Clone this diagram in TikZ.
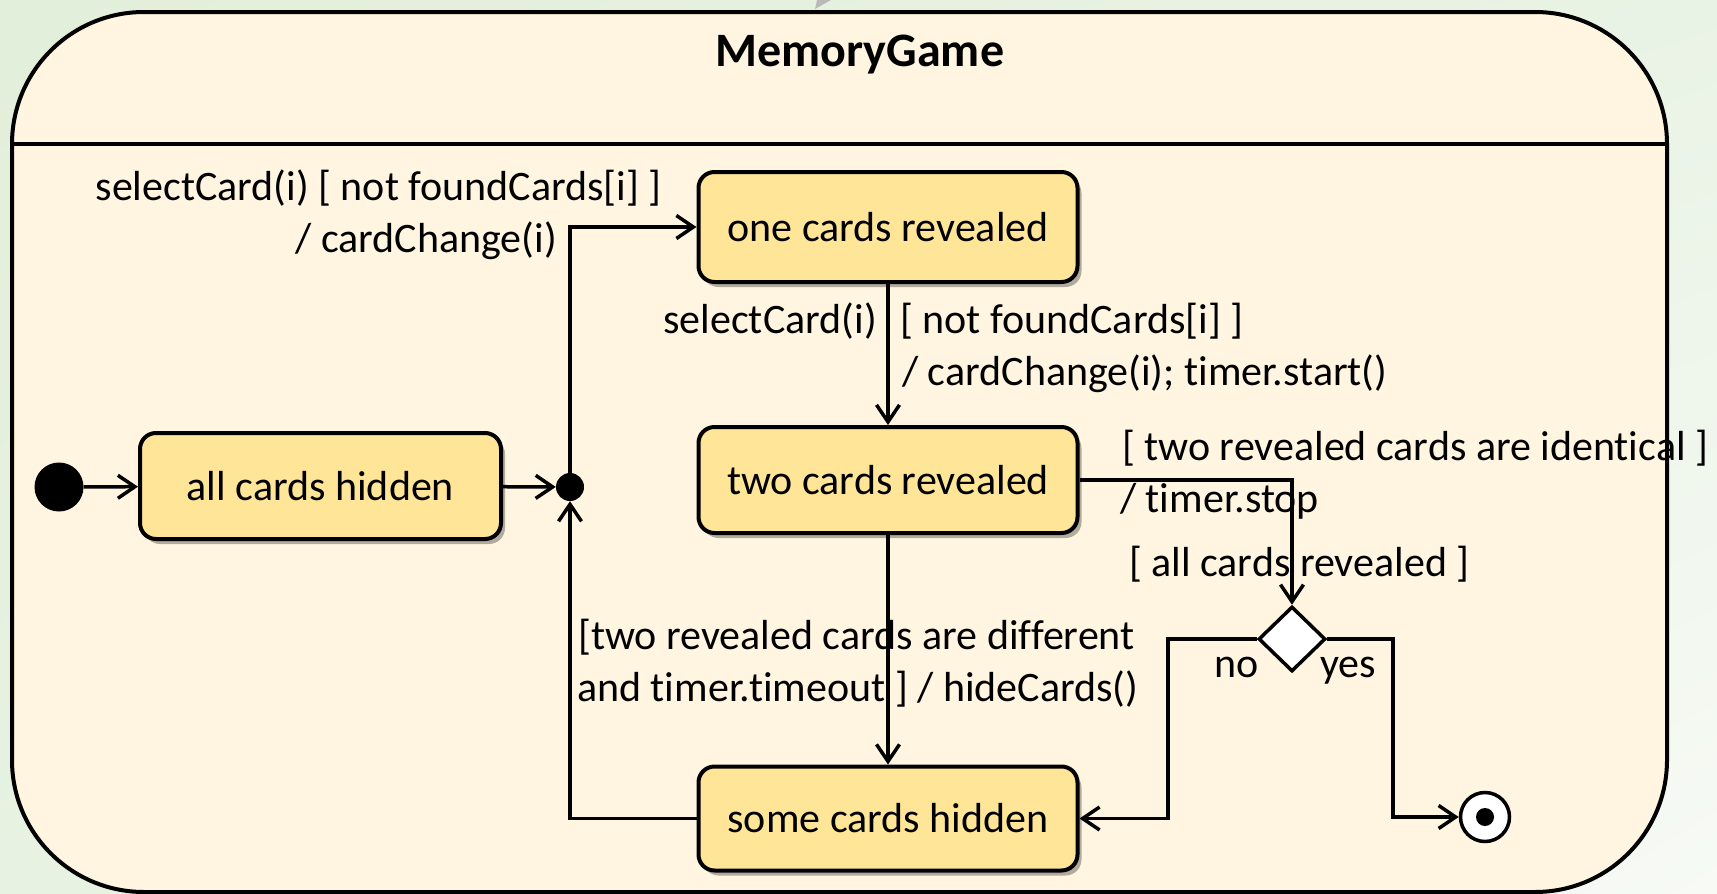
\documentclass[tikz,border=0pt]{standalone}
\usepackage{fontspec}
\setmainfont{Carlito}[Ligatures=NoCommon]
\usetikzlibrary{arrows.meta,shapes.geometric,shadows,shadings}

\definecolor{bgA}{HTML}{E2EFDA}
\definecolor{bgB}{HTML}{E9F3E5}
\definecolor{bgC}{HTML}{E7F2E2}
\definecolor{bgD}{HTML}{F7FAF5}
\definecolor{cream}{HTML}{FFF5E1}
\definecolor{stateyellow}{HTML}{FFE597}

\begin{document}
\begin{tikzpicture}[x=1pt,y=-1pt,
  txt/.style={font=\fontsize{42}{50}\selectfont},
  lbl/.style={txt, inner sep=0pt},
  statebox/.style={txt, draw=black, line width=4pt, fill=stateyellow,
    rounded corners=16pt, inner sep=0pt, minimum width=379pt,
    drop shadow={shadow xshift=4pt, shadow yshift=-5pt, opacity=0.3, fill=black}},
  conn/.style={line width=3.5pt, line join=miter,
    -{Straight Barb[length=17pt,width=23pt,line width=3.5pt]}}]

% canvas and background
\useasboundingbox (0,0) rectangle (1717,894);
\shade[upper left=bgA, upper right=bgB, lower left=bgC, lower right=bgD]
  (0,0) rectangle (1717,894);
\fill[gray!55] (815,9) -- (817,0) -- (831,0) -- cycle;

% composite state
\node[draw=black, line width=4pt, fill=cream, rounded corners=132pt,
  minimum width=1655pt, minimum height=880pt, inner sep=0pt] (game) at (839.5,452) {};
\coordinate (sepL) at (12,144);
\coordinate (sepR) at (1667,144);
\draw[line width=4pt] (sepL) -- (sepR);
\node[anchor=base, inner sep=0pt, font=\bfseries\fontsize{48}{57}\selectfont] (title) at (860,66) {MemoryGame};

% states and pseudo states
\node[circle, fill=black, minimum size=49pt, inner sep=0pt] (init) at (59,487) {};
\node[statebox, minimum width=361pt, minimum height=106pt] (all) at (320.5,486) {all cards hidden};
\node[circle, fill=black, minimum size=28pt, inner sep=0pt] (junc) at (570,487) {};
\node[statebox, minimum height=110pt] (one) at (888,227) {one cards revealed};
\node[statebox, minimum height=106pt] (two) at (888,480) {two cards revealed};
\node[statebox, minimum height=104pt] (some) at (888,818.5) {some cards hidden};
\node[diamond, draw=black, line width=3.5pt, fill=white, aspect=1,
  minimum width=67pt, minimum height=65pt, inner sep=0pt] (dia) at (1292,639) {};
\node[circle, draw=black, line width=3.5pt, fill=white, minimum size=49pt, inner sep=0pt] (final) at (1485,817) {};
\node[circle, fill=black, minimum size=18pt, inner sep=0pt] (finaldot) at (final.center) {};

% bend points
\coordinate (nox) at (1168,0);
\coordinate (yesx) at (1393,0);

% transitions
\draw[conn] (init) -- (all);
\draw[conn] (all) -- (junc);
\draw[conn] (junc.center) |- (one.west);
\draw[conn] (one) -- (two);
\draw[conn] (two.east) -| (dia.north);
\draw[conn] (two) -- (some);
\draw[conn] (dia.west) -- (dia.west -| nox) |- (some.east);
\draw[conn] (dia.east) -- (dia.east -| yesx) |- (final.west);
\draw[conn] (some.west) -| (junc.south);

% transition labels
\node[lbl, anchor=base east] (t1a) at (662,200) {selectCard(i) [ not foundCards[i] ]};
\node[lbl, anchor=base east] (t1b) at (557,252) {/ cardChange(i)};
\node[lbl, anchor=base east] (t2a) at (877,333) {selectCard(i)};
\node[lbl, anchor=base west] (t2b) at (900,333) {[ not foundCards[i] ]};
\node[lbl, anchor=base west] (t2c) at (902,385) {/ cardChange(i); timer.start()};
\node[lbl, anchor=base west] (t3a) at (1122,460) {[ two revealed cards are identical ]};
\node[lbl, anchor=base west] (t3b) at (1120,512) {/ timer.stop};
\node[lbl, anchor=base west] (t4) at (1129,576) {[ all cards revealed ]};
\node[lbl, anchor=base west] (t5a) at (578,649) {[two revealed cards are different};
\node[lbl, anchor=base west] (t5b) at (577,701) {and timer.timeout ] / hideCards()};
\node[lbl, anchor=base east] (tno) at (1259,677) {no};
\node[lbl, anchor=base west] (tyes) at (1320,677) {yes};
\end{tikzpicture}
\end{document}
